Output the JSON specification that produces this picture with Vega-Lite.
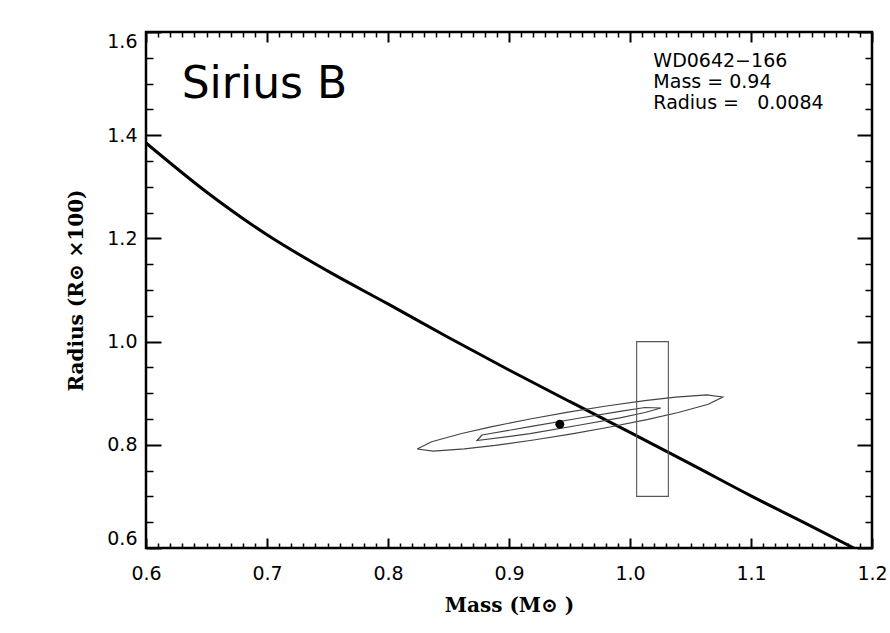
{
  "$schema": "https://vega.github.io/schema/vega-lite/v6.json",
  "width": 726,
  "height": 516,
  "autosize": {"type": "none"},
  "padding": {"left": 146, "top": 32, "right": 18, "bottom": 85},
  "background": "white",
  "config": {
    "view": {"stroke": "black", "strokeWidth": 2.5},
    "axis": {"grid": false, "domain": false, "tickColor": "black", "labelColor": "black", "titleColor": "black"}
  },
  "resolve": {"axis": {"x": "independent", "y": "independent"}},
  "layer": [
    {
      "data": {"values": [
        {"m": 0.6, "r": 1.385}, {"m": 0.65, "r": 1.29}, {"m": 0.7, "r": 1.207}, {"m": 0.75, "r": 1.137},
        {"m": 0.8, "r": 1.073}, {"m": 0.85, "r": 1.008}, {"m": 0.9, "r": 0.945}, {"m": 0.95, "r": 0.884},
        {"m": 1.0, "r": 0.824}, {"m": 1.05, "r": 0.763}, {"m": 1.1, "r": 0.701}, {"m": 1.15, "r": 0.642},
        {"m": 1.185, "r": 0.6}
      ]},
      "mark": {"type": "line", "color": "black", "strokeWidth": 3, "interpolate": "monotone", "clip": true},
      "encoding": {
        "x": {"field": "m", "type": "quantitative", "scale": {"domain": [0.6, 1.2], "nice": false, "zero": false},
          "axis": {"orient": "bottom", "values": [0.6, 0.7, 0.8, 0.9, 1.0, 1.1, 1.2], "format": ".1f", "ticks": false, "labelFlush": false,
            "labelFont": "DejaVu Sans", "labelFontSize": 19, "labelPadding": 16,
            "title": "Mass (M⊙ )", "titleFont": "DejaVu Serif", "titleFontWeight": "bold", "titleFontSize": 20, "titlePadding": 12}},
        "y": {"field": "r", "type": "quantitative", "scale": {"domain": [0.6, 1.6], "nice": false, "zero": false},
          "axis": {"orient": "left", "values": [0.6, 0.8, 1.0, 1.2, 1.4, 1.6], "format": ".1f", "ticks": false, "labelFlush": true,
            "labelFont": "DejaVu Sans", "labelFontSize": 19, "labelPadding": 9,
            "title": "Radius (R⊙ ×100)", "titleFont": "DejaVu Serif", "titleFontWeight": "bold", "titleFontSize": 20, "titlePadding": 20}}
      }
    },
    {
      "data": {"values": [
        {"i": 1, "m": 0.8241, "r": 0.7919}, {"i": 2, "m": 0.8361, "r": 0.806}, {"i": 3, "m": 0.8609, "r": 0.8219},
        {"i": 4, "m": 0.886, "r": 0.8353}, {"i": 5, "m": 0.9174, "r": 0.85}, {"i": 6, "m": 0.9489, "r": 0.8632},
        {"i": 7, "m": 0.9805, "r": 0.8752}, {"i": 8, "m": 1.0122, "r": 0.8857}, {"i": 9, "m": 1.0378, "r": 0.8924},
        {"i": 10, "m": 1.0634, "r": 0.8967}, {"i": 11, "m": 1.0767, "r": 0.8926}, {"i": 12, "m": 1.0647, "r": 0.8785},
        {"i": 13, "m": 1.0399, "r": 0.8626}, {"i": 14, "m": 1.0149, "r": 0.8492}, {"i": 15, "m": 0.9835, "r": 0.8345},
        {"i": 16, "m": 0.952, "r": 0.8211}, {"i": 17, "m": 0.9203, "r": 0.8093}, {"i": 18, "m": 0.8886, "r": 0.7988},
        {"i": 19, "m": 0.8631, "r": 0.7921}, {"i": 20, "m": 0.8374, "r": 0.7878}, {"i": 21, "m": 0.8241, "r": 0.7919}
      ]},
      "mark": {"type": "line", "color": "#444444", "strokeWidth": 1.2, "interpolate": "linear"},
      "encoding": {
        "order": {"field": "i", "type": "quantitative"},
        "x": {"field": "m", "type": "quantitative",
          "axis": {"orient": "bottom", "values": [0.6, 0.7, 0.8, 0.9, 1.0, 1.1, 1.2], "tickSize": -10, "tickWidth": 2, "labels": false, "title": null}},
        "y": {"field": "r", "type": "quantitative",
          "axis": {"orient": "left", "values": [0.6, 0.8, 1.0, 1.2, 1.4, 1.6], "tickSize": -15, "tickWidth": 2, "labels": false, "title": null}}
      }
    },
    {
      "data": {"values": [
        {"i": 1, "m": 0.8777, "r": 0.819}, {"i": 2, "m": 0.9174, "r": 0.8351}, {"i": 3, "m": 0.9587, "r": 0.8519},
        {"i": 4, "m": 0.9917, "r": 0.8649}, {"i": 5, "m": 1.0124, "r": 0.8723}, {"i": 6, "m": 1.0256, "r": 0.8713},
        {"i": 7, "m": 1.0124, "r": 0.8626}, {"i": 8, "m": 0.9917, "r": 0.8523}, {"i": 9, "m": 0.9587, "r": 0.8384},
        {"i": 10, "m": 0.9174, "r": 0.8215}, {"i": 11, "m": 0.8736, "r": 0.8083}, {"i": 12, "m": 0.8777, "r": 0.819}
      ]},
      "mark": {"type": "line", "color": "#444444", "strokeWidth": 1.2, "interpolate": "linear"},
      "encoding": {
        "order": {"field": "i", "type": "quantitative"},
        "x": {"field": "m", "type": "quantitative",
          "axis": {"orient": "bottom", "values": [0.61,0.62,0.63,0.64,0.65,0.66,0.67,0.68,0.69,0.71,0.72,0.73,0.74,0.75,0.76,0.77,0.78,0.79,0.81,0.82,0.83,0.84,0.85,0.86,0.87,0.88,0.89,0.91,0.92,0.93,0.94,0.95,0.96,0.97,0.98,0.99,1.01,1.02,1.03,1.04,1.05,1.06,1.07,1.08,1.09,1.11,1.12,1.13,1.14,1.15,1.16,1.17,1.18,1.19], "tickSize": -5, "tickWidth": 1.5, "labels": false, "title": null}},
        "y": {"field": "r", "type": "quantitative",
          "axis": {"orient": "left", "values": [0.65,0.7,0.75,0.85,0.9,0.95,1.05,1.1,1.15,1.25,1.3,1.35,1.45,1.5,1.55], "tickSize": -7, "tickWidth": 1.5, "labels": false, "title": null}}
      }
    },
    {
      "data": {"values": [{"m1": 1.0055, "m2": 1.0317, "r1": 0.7, "r2": 1.0}]},
      "mark": {"type": "rect", "fill": null, "fillOpacity": 0, "stroke": "#555555", "strokeWidth": 1.1},
      "encoding": {
        "x": {"field": "m1", "type": "quantitative",
          "axis": {"orient": "top", "values": [0.6, 0.7, 0.8, 0.9, 1.0, 1.1, 1.2], "tickSize": -10, "tickWidth": 2, "labels": false, "title": null}},
        "x2": {"field": "m2"},
        "y": {"field": "r1", "type": "quantitative",
          "axis": {"orient": "right", "values": [0.6, 0.8, 1.0, 1.2, 1.4, 1.6], "tickSize": -15, "tickWidth": 2, "labels": false, "title": null}},
        "y2": {"field": "r2"}
      }
    },
    {
      "data": {"values": [{"m": 0.942, "r": 0.84}]},
      "mark": {"type": "circle", "color": "black", "opacity": 1, "size": 80},
      "encoding": {
        "x": {"field": "m", "type": "quantitative",
          "axis": {"orient": "top", "values": [0.61,0.62,0.63,0.64,0.65,0.66,0.67,0.68,0.69,0.71,0.72,0.73,0.74,0.75,0.76,0.77,0.78,0.79,0.81,0.82,0.83,0.84,0.85,0.86,0.87,0.88,0.89,0.91,0.92,0.93,0.94,0.95,0.96,0.97,0.98,0.99,1.01,1.02,1.03,1.04,1.05,1.06,1.07,1.08,1.09,1.11,1.12,1.13,1.14,1.15,1.16,1.17,1.18,1.19], "tickSize": -5, "tickWidth": 1.5, "labels": false, "title": null}},
        "y": {"field": "r", "type": "quantitative",
          "axis": {"orient": "right", "values": [0.65,0.7,0.75,0.85,0.9,0.95,1.05,1.1,1.15,1.25,1.3,1.35,1.45,1.5,1.55], "tickSize": -7, "tickWidth": 1.5, "labels": false, "title": null}}
      }
    },
    {
      "data": {"values": [{"label": "Sirius B"}]},
      "mark": {"type": "text", "font": "DejaVu Sans", "fontSize": 44, "align": "left", "baseline": "alphabetic", "color": "black"},
      "encoding": {
        "text": {"field": "label"},
        "x": {"datum": 0.6295, "type": "quantitative", "axis": null},
        "y": {"datum": 1.4715, "type": "quantitative", "axis": null}
      }
    },
    {
      "data": {"values": [{"name": "WD0642−166"}]},
      "mark": {"type": "text", "text": ["WD0642−166", "Mass = 0.94", "Radius = \u00a0\u00a00.0084"], "font": "DejaVu Sans", "fontSize": 19, "lineHeight": 21, "align": "left", "baseline": "alphabetic", "color": "black"},
      "encoding": {
        "x": {"datum": 1.0193, "type": "quantitative", "axis": null},
        "y": {"datum": 1.5328, "type": "quantitative", "axis": null}
      }
    }
  ]
}
